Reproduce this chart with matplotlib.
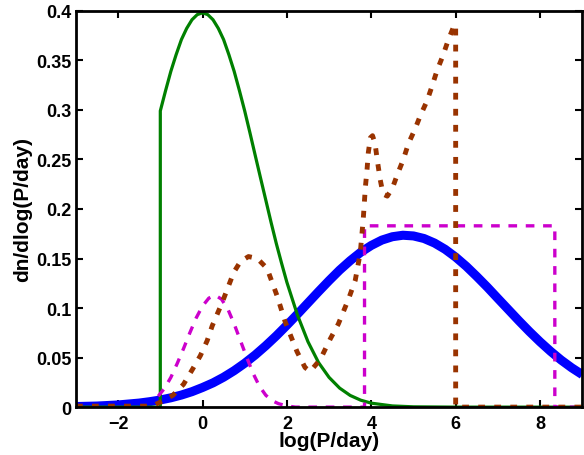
import matplotlib
matplotlib.use("Agg")
import matplotlib.pyplot as plt

plt.rcParams['font.family'] = ['Liberation Sans', 'DejaVu Sans']
plt.rcParams['font.weight'] = 'bold'

# thick blue curve
blue_x = [-3, -2.5, -2, -1.5, -1.25, -1, -0.75, -0.5, -0.25, 0, 0.25, 0.5, 0.75,
          1, 1.25, 1.5, 1.75, 2, 2.25, 2.5, 2.75, 3, 3.25, 3.5, 3.75, 4, 4.25,
          4.5, 4.75, 5, 5.25, 5.5, 5.75, 6, 6.25, 6.5, 6.75, 7, 7.25, 7.5, 7.75,
          8, 8.25, 8.5, 8.75, 9]
blue_y = [0.0006, 0.0011, 0.0022, 0.0041, 0.0055, 0.0072, 0.0094, 0.0122, 0.0156,
          0.0198, 0.0245, 0.0302, 0.0368, 0.0443, 0.0527, 0.0620, 0.0720, 0.0827,
          0.0938, 0.1052, 0.1166, 0.1277, 0.1383, 0.1478, 0.1563, 0.1632, 0.1686,
          0.1720, 0.1735, 0.1728, 0.1702, 0.1656, 0.1593, 0.1514, 0.1422, 0.1319,
          0.1211, 0.1097, 0.0984, 0.0871, 0.0762, 0.0659, 0.0563, 0.0475, 0.0397,
          0.0328]

# green solid curve
green_x = [-3, -1, -1, -0.875, -0.75, -0.625, -0.5, -0.375, -0.25, -0.125, 0,
           0.125, 0.25, 0.375, 0.5, 0.625, 0.75, 0.875, 1, 1.125, 1.25, 1.375,
           1.5, 1.625, 1.75, 1.875, 2, 2.25, 2.5, 2.75, 3, 3.25, 3.5, 3.75, 4,
           4.5, 5, 6, 9]
green_y = [0, 0, 0.299, 0.3195, 0.339, 0.3558, 0.371, 0.3823, 0.391, 0.3962,
           0.398, 0.3962, 0.391, 0.3823, 0.371, 0.3558, 0.339, 0.3195, 0.299,
           0.2768, 0.254, 0.2314, 0.209, 0.1865, 0.165, 0.1451, 0.126, 0.093,
           0.066, 0.045, 0.030, 0.0192, 0.0118, 0.0070, 0.0040, 0.0012, 0.0003,
           0, 0]

# magenta dashed curve
mag_x = [-1.05, -0.9, -0.75, -0.6, -0.45, -0.3, -0.15, 0, 0.15, 0.3, 0.45, 0.6,
         0.75, 0.9, 1.05, 1.2, 1.35, 1.5, 1.65, 1.8, 2.0, 2.2,
         3.84, 3.84, 8.35, 8.35, 9]
mag_y = [0.011, 0.019, 0.030, 0.044, 0.059, 0.075, 0.090, 0.102, 0.110, 0.113,
         0.109, 0.099, 0.084, 0.067, 0.050, 0.034, 0.021, 0.012, 0.0065, 0.0035,
         0.0012, 0.0,
         0.0, 0.183, 0.183, 0.0, 0.0]

# brown dotted curve
brown_x = [-3, -1.2, -1.0, -0.7, -0.45, -0.24, -0.05, 0.11, 0.23, 0.47, 0.74,
           0.9, 1.09, 1.3, 1.53, 1.77, 1.96, 2.24, 2.43, 2.55, 2.79, 3.03, 3.22,
           3.46, 3.62, 3.74, 3.81, 3.86, 3.9, 3.93, 3.98, 4.03, 4.09, 4.14, 4.21,
           4.28, 4.38, 4.5, 4.62, 4.76, 4.88, 5.04, 5.16, 5.32, 5.44, 5.56, 5.7,
           5.82, 5.97, 6.0, 6.0, 9]
brown_y = [0.001, 0.001, 0.005, 0.012, 0.023, 0.038, 0.052, 0.067, 0.082, 0.106,
           0.136, 0.147, 0.152, 0.150, 0.140, 0.112, 0.086, 0.056, 0.040, 0.036,
           0.048, 0.069, 0.084, 0.109, 0.128, 0.156, 0.19, 0.222, 0.24, 0.257,
           0.272, 0.274, 0.266, 0.250, 0.23, 0.215, 0.213, 0.221, 0.235, 0.25,
           0.266, 0.281, 0.294, 0.309, 0.324, 0.34, 0.355, 0.37, 0.386, 0.386,
           0.0, 0.0]

xticks = [-2, 0, 2, 4, 6, 8]
xtick_labels = ['\u22122', '0', '2', '4', '6', '8']
yticks = [0, 0.05, 0.1, 0.15, 0.2, 0.25, 0.3, 0.35, 0.4]
ytick_labels = ['0', '0.05', '0.1', '0.15', '0.2', '0.25', '0.3', '0.35', '0.4']

fig = plt.figure(figsize=(5.84, 4.56), dpi=100)
ax = fig.add_axes([0.13, 0.105, 0.867, 0.869])

ax.plot(blue_x, blue_y, color='#0000ff', lw=6.5, solid_capstyle='butt')
ax.plot(green_x, green_y, color='#008000', lw=2.3)
ax.plot(mag_x, mag_y, color='#cc00cc', lw=2.4, linestyle=(0, (2.6, 2.6)),
        dash_capstyle='butt')
ax.plot(brown_x, brown_y, color='#993300', lw=3.5, linestyle=(0, (1.4, 1.9)),
        dash_capstyle='butt')

ax.set_xlim(-3, 9)
ax.set_ylim(0, 0.4)
ax.set_xticks(xticks)
ax.set_xticklabels(xtick_labels)
ax.set_yticks(yticks)
ax.set_yticklabels(ytick_labels)
ax.tick_params(direction='in', length=5, width=1.5, top=True, right=True,
               labelsize=13)
ax.tick_params(axis='x', pad=6)
ax.tick_params(axis='y', pad=3)
for s in ax.spines.values():
    s.set_linewidth(2)
ax.set_xlabel('log(P/day)', fontsize=15, fontweight='bold', labelpad=-1)
ax.set_ylabel('dn/dlog(P/day)', fontsize=15, fontweight='bold', labelpad=3)

fig.savefig('out.png', dpi=100)
